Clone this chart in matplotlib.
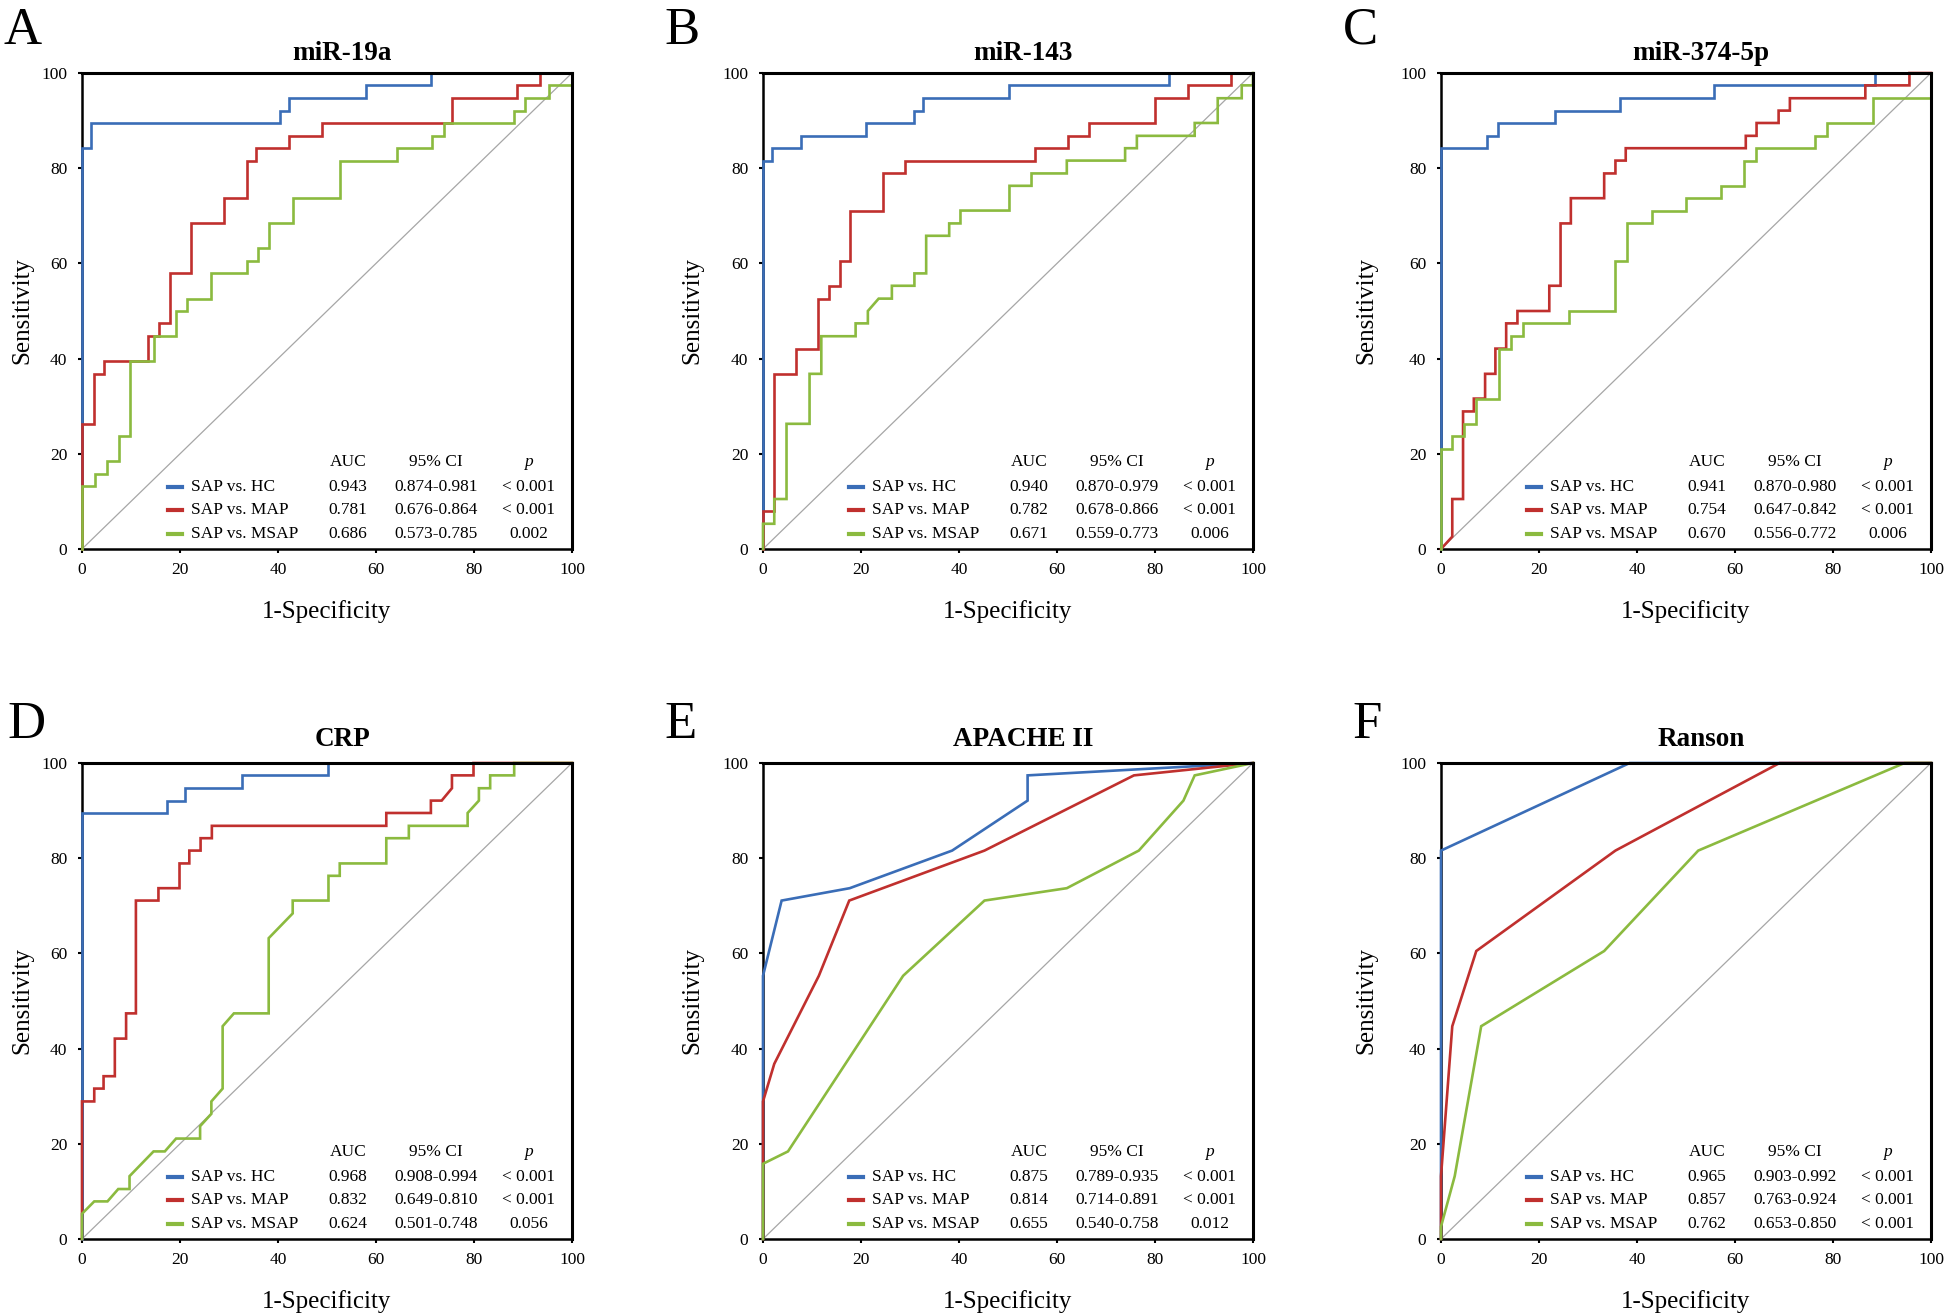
import matplotlib
matplotlib.use("Agg")
import matplotlib.pyplot as plt
from matplotlib.lines import Line2D

plt.rcParams['font.family'] = ['Liberation Serif', 'DejaVu Serif']

# ---------------- data ----------------
panel_letters = ["A", "B", "C", "D", "E", "F"]
panel_titles = ["miR-19a", "miR-143", "miR-374-5p", "CRP", "APACHE II", "Ranson"]
series_names = ["SAP vs. HC", "SAP vs. MAP", "SAP vs. MSAP"]
series_colors = ["#3A6DB7", "#C0302E", "#8BBA3F"]
tick_values = [0, 20, 40, 60, 80, 100]

A_HC = [(0,0),(0,84.2),(1.9,84.2),(1.9,89.5),(40.4,89.5),(40.4,92.1),(42.3,92.1),(42.3,94.7),(57.9,94.7),(57.9,97.4),(71.2,97.4),(71.2,100),(100,100)]
A_MAP = [(0,0),(0,26.3),(2.5,26.3),(2.5,36.8),(4.4,36.8),(4.4,39.5),(13.5,39.5),(13.5,44.7),(15.8,44.7),(15.8,47.4),(17.9,47.4),(17.9,57.9),(22.2,57.9),(22.2,68.4),(28.9,68.4),(28.9,73.7),(33.6,73.7),(33.6,81.6),(35.5,81.6),(35.5,84.2),(42.2,84.2),(42.2,86.8),(48.9,86.8),(48.9,89.5),(75.5,89.5),(75.5,94.7),(88.7,94.7),(88.7,97.4),(93.4,97.4),(93.4,100),(100,100)]
A_MSAP = [(0,0),(0,13.2),(2.7,13.2),(2.7,15.8),(5.1,15.8),(5.1,18.4),(7.5,18.4),(7.5,23.7),(9.7,23.7),(9.7,39.5),(14.6,39.5),(14.6,44.7),(19.1,44.7),(19.1,50),(21.5,50),(21.5,52.6),(26.4,52.6),(26.4,57.9),(33.6,57.9),(33.6,60.5),(35.9,60.5),(35.9,63.2),(38.1,63.2),(38.1,68.4),(43.1,68.4),(43.1,73.7),(52.6,73.7),(52.6,81.6),(64.3,81.6),(64.3,84.2),(71.5,84.2),(71.5,86.8),(73.8,86.8),(73.8,89.5),(88.2,89.5),(88.2,92.1),(90.5,92.1),(90.5,94.7),(95.3,94.7),(95.3,97.4),(100,97.4),(100,100)]

B_HC = [(0,0),(0,81.6),(1.9,81.6),(1.9,84.2),(7.8,84.2),(7.8,86.8),(21,86.8),(21,89.5),(30.9,89.5),(30.9,92.1),(32.6,92.1),(32.6,94.7),(50.3,94.7),(50.3,97.4),(82.8,97.4),(82.8,100),(100,100)]
B_MAP = [(0,0),(0,7.9),(2.3,7.9),(2.3,36.8),(6.7,36.8),(6.7,42.1),(11.3,42.1),(11.3,52.6),(13.4,52.6),(13.4,55.3),(15.7,55.3),(15.7,60.5),(17.8,60.5),(17.8,71.1),(24.5,71.1),(24.5,78.9),(28.9,78.9),(28.9,81.6),(55.6,81.6),(55.6,84.2),(62.2,84.2),(62.2,86.8),(66.6,86.8),(66.6,89.5),(79.9,89.5),(79.9,94.7),(86.7,94.7),(86.7,97.4),(95.6,97.4),(95.6,100),(100,100)]
B_MSAP = [(0,0),(0,5.3),(2.3,5.3),(2.3,10.5),(4.8,10.5),(4.8,26.3),(9.5,26.3),(9.5,36.8),(11.9,36.8),(11.9,44.7),(18.9,44.7),(18.9,47.4),(21.4,47.4),(21.4,50),(23.6,52.6),(26.3,52.6),(26.3,55.3),(30.9,55.3),(30.9,57.9),(33.3,57.9),(33.3,65.8),(38,65.8),(38,68.4),(40.3,68.4),(40.3,71.1),(50.3,71.1),(50.3,76.3),(54.8,76.3),(54.8,78.9),(62,78.9),(62,81.6),(73.9,81.6),(73.9,84.2),(76.3,84.2),(76.3,86.8),(88.1,86.8),(88.1,89.5),(92.8,89.5),(92.8,94.7),(97.7,94.7),(97.7,97.4),(100,97.4),(100,100)]

C_HC = [(0,0),(0,84.2),(9.4,84.2),(9.4,86.8),(11.6,86.8),(11.6,89.5),(23.2,89.5),(23.2,92.1),(36.5,92.1),(36.5,94.7),(55.8,94.7),(55.8,97.4),(88.5,97.4),(88.5,100),(100,100)]
C_MAP = [(0,0),(2.3,2.6),(2.3,10.5),(4.5,10.5),(4.5,28.9),(6.7,28.9),(6.7,31.6),(9,31.6),(9,36.8),(11.1,36.8),(11.1,42.1),(13.3,42.1),(13.3,47.4),(15.6,47.4),(15.6,50),(22.1,50),(22.1,55.3),(24.4,55.3),(24.4,68.4),(26.5,68.4),(26.5,73.7),(33.3,73.7),(33.3,78.9),(35.6,78.9),(35.6,81.6),(37.7,81.6),(37.7,84.2),(62.2,84.2),(62.2,86.8),(64.4,86.8),(64.4,89.5),(68.9,89.5),(68.9,92.1),(71.2,92.1),(71.2,94.7),(86.6,94.7),(86.6,97.4),(95.6,97.4),(95.6,100),(100,100)]
C_MSAP = [(0,0),(0,21.1),(2.3,21.1),(2.3,23.7),(4.6,23.7),(4.6,26.3),(7.2,26.3),(7.2,31.6),(11.8,31.6),(11.8,42.1),(14.3,42.1),(14.3,44.7),(16.7,44.7),(16.7,47.4),(26.1,47.4),(26.1,50),(35.6,50),(35.6,60.5),(38,60.5),(38,68.4),(43,68.4),(43,71.1),(50.1,71.1),(50.1,73.7),(57.1,73.7),(57.1,76.3),(61.9,76.3),(61.9,81.6),(64.3,81.6),(64.3,84.2),(76.4,84.2),(76.4,86.8),(78.8,86.8),(78.8,89.5),(88.2,89.5),(88.2,94.7),(100,94.7),(100,100)]

D_HC = [(0,0),(0,89.5),(17.3,89.5),(17.3,92.1),(21,92.1),(21,94.7),(32.7,94.7),(32.7,97.4),(50.3,97.4),(50.3,100),(100,100)]
D_MAP = [(0,0),(0,28.9),(2.5,28.9),(2.5,31.6),(4.4,31.6),(4.4,34.2),(6.7,34.2),(6.7,42.1),(9,42.1),(9,47.4),(11,47.4),(11,71.1),(15.6,71.1),(15.6,73.7),(19.9,73.7),(19.9,78.9),(21.9,78.9),(21.9,81.6),(24.2,81.6),(24.2,84.2),(26.5,84.2),(26.5,86.8),(62.1,86.8),(62.1,89.5),(71.2,89.5),(71.2,92.1),(73.4,92.1),(75.5,94.7),(75.5,97.4),(79.9,97.4),(79.9,100),(100,100)]
D_MSAP = [(0,0),(0,5.3),(2.5,7.9),(5.2,7.9),(7.4,10.5),(9.7,10.5),(9.7,13.2),(14.6,18.4),(16.9,18.4),(19.2,21.1),(24.1,21.1),(24.1,23.7),(26.4,26.3),(26.4,28.9),(28.7,31.6),(28.7,44.7),(31,47.4),(38.1,47.4),(38.1,63.2),(43,68.4),(43,71.1),(50.3,71.1),(50.3,76.3),(52.6,76.3),(52.6,78.9),(62.1,78.9),(62.1,84.2),(66.7,84.2),(66.7,86.8),(78.7,86.8),(78.7,89.5),(81,92.1),(81,94.7),(83.3,94.7),(83.3,97.4),(88.2,97.4),(88.2,100),(100,100)]

E_HC = [(0,0),(0,55.3),(3.8,71.1),(17.7,73.7),(38.6,81.6),(54,92.1),(54,97.4),(100,100)]
E_MAP = [(0,0),(0,28.9),(2.3,36.8),(11.4,55.3),(17.6,71.1),(45.2,81.6),(75.7,97.4),(100,100)]
E_MSAP = [(0,0),(0,15.8),(5.1,18.4),(28.6,55.3),(45.2,71.1),(62,73.7),(76.7,81.6),(85.8,92.1),(88.1,97.4),(100,100)]

F_HC = [(0,0),(0,81.6),(38.5,100),(100,100)]
F_MAP = [(0,0),(0,13.2),(2.3,44.7),(7.2,60.5),(35.6,81.6),(69.1,100),(100,100)]
F_MSAP = [(0,0),(0,2.6),(2.8,13.2),(8.2,44.7),(33.3,60.5),(52.5,81.6),(94.6,100),(100,100)]

A_stats = [("0.943", "0.874-0.981", "< 0.001"), ("0.781", "0.676-0.864", "< 0.001"), ("0.686", "0.573-0.785", "0.002")]
B_stats = [("0.940", "0.870-0.979", "< 0.001"), ("0.782", "0.678-0.866", "< 0.001"), ("0.671", "0.559-0.773", "0.006")]
C_stats = [("0.941", "0.870-0.980", "< 0.001"), ("0.754", "0.647-0.842", "< 0.001"), ("0.670", "0.556-0.772", "0.006")]
D_stats = [("0.968", "0.908-0.994", "< 0.001"), ("0.832", "0.649-0.810", "< 0.001"), ("0.624", "0.501-0.748", "0.056")]
E_stats = [("0.875", "0.789-0.935", "< 0.001"), ("0.814", "0.714-0.891", "< 0.001"), ("0.655", "0.540-0.758", "0.012")]
F_stats = [("0.965", "0.903-0.992", "< 0.001"), ("0.857", "0.763-0.924", "< 0.001"), ("0.762", "0.653-0.850", "< 0.001")]

panel_curves = [(A_HC, A_MAP, A_MSAP), (B_HC, B_MAP, B_MSAP), (C_HC, C_MAP, C_MSAP),
                (D_HC, D_MAP, D_MSAP), (E_HC, E_MAP, E_MSAP), (F_HC, F_MAP, F_MSAP)]
panel_stats = [A_stats, B_stats, C_stats, D_stats, E_stats, F_stats]

# ---------------- layout ----------------
W, H = 1946, 1314
fig = plt.figure(figsize=(W / 100, H / 100), dpi=100)

col_left = [82, 763, 1441]
row_top = [73, 763]
title_gap = [20, 24]
ax_w, ax_h = 490, 476
letter_pos = [(4, 44), (664, 44), (1343, 44), (7, 738), (664, 738), (1352, 738)]
ylabel_x = [-0.122, -0.145, -0.153]

for i in range(6):
    r, c = divmod(i, 3)
    left = col_left[c]
    top = row_top[r]
    ax = fig.add_axes([left / W, 1 - (top + ax_h) / H, ax_w / W, ax_h / H])
    ax.set_xlim(0, 100)
    ax.set_ylim(0, 100)

    # diagonal reference
    ax.plot([0, 100], [0, 100], color="#A6A6A6", lw=0.9, zorder=1)

    for pts, col in zip(panel_curves[i], series_colors):
        xs = [p[0] for p in pts]
        ys = [p[1] for p in pts]
        ax.plot(xs, ys, color=col, lw=1.9, zorder=3, clip_on=False,
                solid_joinstyle="miter")

    for side in ["left", "bottom"]:
        ax.spines[side].set_linewidth(1.8)
        ax.spines[side].set_zorder(1.5)
    for side in ["top", "right"]:
        ax.spines[side].set_linewidth(2.2)
        ax.spines[side].set_zorder(5)

    ax.set_xticks(tick_values)
    ax.set_yticks(tick_values)
    ax.tick_params(direction="out", length=3.2, width=1.5, labelsize=12.5)
    ax.tick_params(axis="y", pad=7.5)
    ax.tick_params(axis="x", pad=6)

    ax.set_xlabel("1-Specificity", fontsize=18, labelpad=16)
    ax.set_ylabel("Sensitivity", fontsize=18, va="center", ha="center")
    ax.yaxis.set_label_coords(ylabel_x[c], 0.5)

    ax.text(0.531, 1 + title_gap[r] / ax_h, panel_titles[i], transform=ax.transAxes,
            ha="center", va="center", fontsize=19.5, fontweight="bold")

    lx, ly = letter_pos[i]
    fig.text(lx / W, 1 - ly / H, panel_letters[i], fontsize=38,
             ha="left", va="baseline")

    # stats table
    tf = ax.transAxes
    fs = 12.5
    ax.text(0.543, 0.183, "AUC", transform=tf, ha="center", va="center", fontsize=fs)
    ax.text(0.723, 0.183, "95% CI", transform=tf, ha="center", va="center", fontsize=fs)
    ax.text(0.911, 0.183, "p", transform=tf, ha="center", va="center", fontsize=fs,
            style="italic")
    row_y = [0.131, 0.081, 0.032]
    for (auc, ci, p), name, col, yy in zip(panel_stats[i], series_names,
                                            series_colors, row_y):
        ax.add_line(Line2D([0.175, 0.205], [yy, yy], transform=tf, color=col,
                           lw=3, zorder=4))
        ax.text(0.223, yy, name, transform=tf, ha="left", va="center", fontsize=fs)
        ax.text(0.543, yy, auc, transform=tf, ha="center", va="center", fontsize=fs)
        ax.text(0.723, yy, ci, transform=tf, ha="center", va="center", fontsize=fs)
        ax.text(0.911, yy, p, transform=tf, ha="center", va="center", fontsize=fs)

fig.savefig("out.png", dpi=100)
